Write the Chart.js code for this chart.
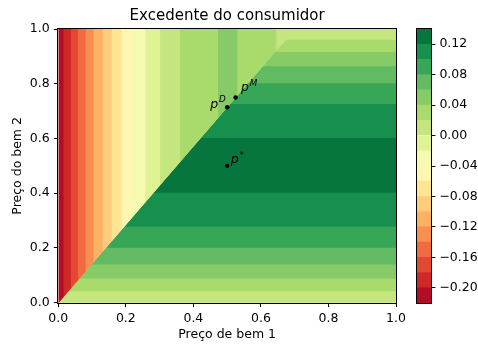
<!DOCTYPE html>
<html lang="pt">
<head>
<meta charset="UTF-8">
<title>Excedente do consumidor</title>
<script src="https://cdn.jsdelivr.net/npm/chart.js@4.4.1/dist/chart.umd.min.js"></script>
<style>
  body { margin: 0; background: #fff; }
  #wrap { position: relative; width: 478px; height: 347px; }
  #wrap canvas { position: absolute; left: 0; top: 0; }
</style>
</head>
<body>
<div id="wrap">
  <canvas id="main" width="478" height="347"></canvas>
  <canvas id="cbar" width="478" height="347"></canvas>
</div>
<script>
// contour levels (colorbar)
const levels = [-0.22, -0.20, -0.18, -0.16, -0.14, -0.12, -0.10, -0.08, -0.06, -0.04,
                -0.02, 0.00, 0.02, 0.04, 0.06, 0.08, 0.10, 0.12, 0.14];
const cbTicks = [-0.20, -0.16, -0.12, -0.08, -0.04, 0.00, 0.04, 0.08, 0.12];
const xTicks = [0.0, 0.2, 0.4, 0.6, 0.8, 1.0];
const yTicks = [0.0, 0.2, 0.4, 0.6, 0.8, 1.0];

// boundary between the two regions: p1 = kink * p2
const kink = 0.7;
// upper-left region: vertical bands, edges in p1 and level index of each band
const p1Edges = [0, 0.014, 0.036, 0.057, 0.080, 0.103, 0.130, 0.157, 0.186, 0.217,
                 0.256, 0.300, 0.359, 0.471, 0.529, 0.644, 0.700];
const p1Bands = [0, 1, 2, 3, 4, 5, 6, 7, 8, 9, 10, 11, 12, 13, 12, 11];
// lower-right region: horizontal bands, edges in p2
const p2Edges = [0, 0.040, 0.086, 0.138, 0.199, 0.276, 0.400, 0.600, 0.724, 0.800,
                 0.862, 0.914, 0.959, 1.0];
const p2Bands = [11, 12, 13, 14, 15, 16, 17, 16, 15, 14, 13, 12, 11];

// marked points
const pStar = [0.5, 0.5];
const pD = [0.5, 0.714];
const pM = [0.525, 0.75];

// RdYlGn
const rdylgn = [[165,0,38],[215,48,39],[244,109,67],[253,174,97],[254,224,139],[255,255,191],
                [217,239,139],[166,217,106],[102,189,99],[26,152,80],[0,104,55]];
function cmap(t) {
  const s = t * 10, i = Math.min(9, Math.floor(s)), f = s - i;
  const a = rdylgn[i], b = rdylgn[i + 1];
  const c = a.map((v, k) => Math.round(v + (b[k] - v) * f));
  return 'rgb(' + c.join(',') + ')';
}
const nBands = levels.length - 1;
const colors = [];
for (let i = 0; i < nBands; i++) colors.push(cmap((i + 0.5) / nBands));

Chart.defaults.font.family = 'DejaVu Sans';
Chart.defaults.font.size = 12.5;
Chart.defaults.color = '#000';

function poly(pts, col) {
  return {
    data: pts, showLine: true, fill: 'shape', tension: 0,
    backgroundColor: col, borderColor: col, borderWidth: 1, pointRadius: 0
  };
}

const sets = [];
// dots first so they sit on top
sets.push({
  data: [pStar, pD, pM].map(p => ({x: p[0], y: p[1]})),
  showLine: false, pointRadius: 2.2, backgroundColor: '#000', borderWidth: 0
});
for (let k = 0; k < p1Bands.length; k++) {
  const a = p1Edges[k], b = p1Edges[k + 1];
  let pts;
  if (b / kink <= 1) pts = [{x: a, y: a / kink}, {x: b, y: b / kink}, {x: b, y: 1}, {x: a, y: 1}];
  else pts = [{x: a, y: a / kink}, {x: kink, y: 1}, {x: a, y: 1}];
  sets.push(poly(pts, colors[p1Bands[k]]));
}
for (let k = 0; k < p2Bands.length; k++) {
  const c = p2Edges[k], d = p2Edges[k + 1];
  const pts = [{x: kink * c, y: c}, {x: 1, y: c}, {x: 1, y: d}, {x: kink * d, y: d}];
  sets.push(poly(pts, colors[p2Bands[k]]));
}

const frame = {
  id: 'frame',
  afterDatasetsDraw(chart) {
    const a = chart.chartArea, ctx = chart.ctx;
    ctx.save();
    ctx.strokeStyle = '#000';
    ctx.lineWidth = 1;
    ctx.strokeRect(Math.round(a.left) - 0.5, Math.round(a.top) - 0.5,
                   Math.round(a.right) - Math.round(a.left) + 1, Math.round(a.bottom) - Math.round(a.top) + 1);
    ctx.restore();
  }
};

// p labels: [point, superscript, dx, dy, align]
const pLabels = [
  [pD, 'D', -1.5, 0.5, 'right'],
  [pM, 'M', 5.5, -6, 'left'],
  [pStar, '*', 3.5, -2.5, 'left']
];
const pointText = {
  id: 'pointText',
  afterDatasetsDraw(chart) {
    const ctx = chart.ctx, xs = chart.scales.x, ys = chart.scales.y;
    ctx.save();
    ctx.fillStyle = '#000';
    ctx.textBaseline = 'alphabetic';
    ctx.textAlign = 'left';
    for (const [p, sup, dx, dy, align] of pLabels) {
      const px = xs.getPixelForValue(p[0]), py = ys.getPixelForValue(p[1]);
      const supFont = sup === '*' ? '8.75px DejaVu Sans' : 'italic 8.75px DejaVu Sans';
      ctx.font = 'italic 12.5px DejaVu Sans';
      const w1 = ctx.measureText('p').width + 0.8;
      ctx.font = supFont;
      const w2 = ctx.measureText(sup).width;
      let x0 = px + dx;
      if (align === 'right') x0 -= w1 + w2;
      const base = py + dy;
      ctx.font = 'italic 12.5px DejaVu Sans';
      ctx.fillText('p', x0, base);
      ctx.font = supFont;
      ctx.fillText(sup, x0 + w1, base - 5.5);
    }
    ctx.restore();
  }
};

new Chart(document.getElementById('main'), {
  type: 'scatter',
  data: { datasets: sets },
  options: {
    responsive: false, animation: false,
    layout: { padding: { top: 0, right: 82, bottom: 0, left: 0 } },
    plugins: {
      legend: { display: false },
      tooltip: { enabled: false },
      title: {
        display: true, text: 'Excedente do consumidor', fullSize: false,
        font: { size: 15, weight: 'normal' }, color: '#000',
        padding: { top: 7.3, bottom: 3.7 }
      }
    },
    scales: {
      x: {
        type: 'linear', min: 0, max: 1,
        afterBuildTicks: s => { s.ticks = xTicks.map(v => ({value: v})); },
        afterFit: s => { s.height = 44.3; },
        ticks: { padding: 3.7, maxRotation: 0, callback: v => v.toFixed(1) },
        grid: { drawOnChartArea: false, tickLength: 4.4, color: '#000', lineWidth: 1 },
        border: { display: false },
        title: { display: true, text: 'Preço de bem 1', padding: { top: 0, bottom: 4.8 } }
      },
      y: {
        type: 'linear', min: 0, max: 1,
        afterBuildTicks: s => { s.ticks = yTicks.map(v => ({value: v})); },
        afterFit: s => { s.width = 58.3; },
        ticks: { padding: 4.3, callback: v => v.toFixed(1) },
        grid: { drawOnChartArea: false, tickLength: 4.4, color: '#000', lineWidth: 1 },
        border: { display: false },
        title: { display: true, text: 'Preço do bem 2', padding: { top: 10.4, bottom: 0 } }
      }
    }
  },
  plugins: [frame, pointText]
});

// colorbar
const cbSets = [];
for (let i = 0; i < nBands; i++) {
  cbSets.push({ data: [[levels[i], levels[i + 1]]], backgroundColor: colors[i], borderWidth: 0,
                grouped: false, barPercentage: 1, categoryPercentage: 1 });
}
new Chart(document.getElementById('cbar'), {
  type: 'bar',
  data: { labels: [''], datasets: cbSets },
  options: {
    responsive: false, animation: false,
    layout: { padding: { top: 29, right: 0, bottom: 44, left: 417 } },
    plugins: { legend: { display: false }, tooltip: { enabled: false } },
    scales: {
      x: { display: false },
      y: {
        position: 'right', min: levels[0], max: levels[levels.length - 1],
        afterBuildTicks: s => { s.ticks = cbTicks.map(v => ({value: v})); },
        afterFit: s => { s.width = 47; },
        ticks: { padding: 4, callback: v => (v < -1e-9 ? '\u2212' : '') + Math.abs(v).toFixed(2) },
        grid: { drawOnChartArea: false, tickLength: 4.4, color: '#000', lineWidth: 1 },
        border: { display: false }
      }
    }
  },
  plugins: [frame]
});
</script>
</body>
</html>
